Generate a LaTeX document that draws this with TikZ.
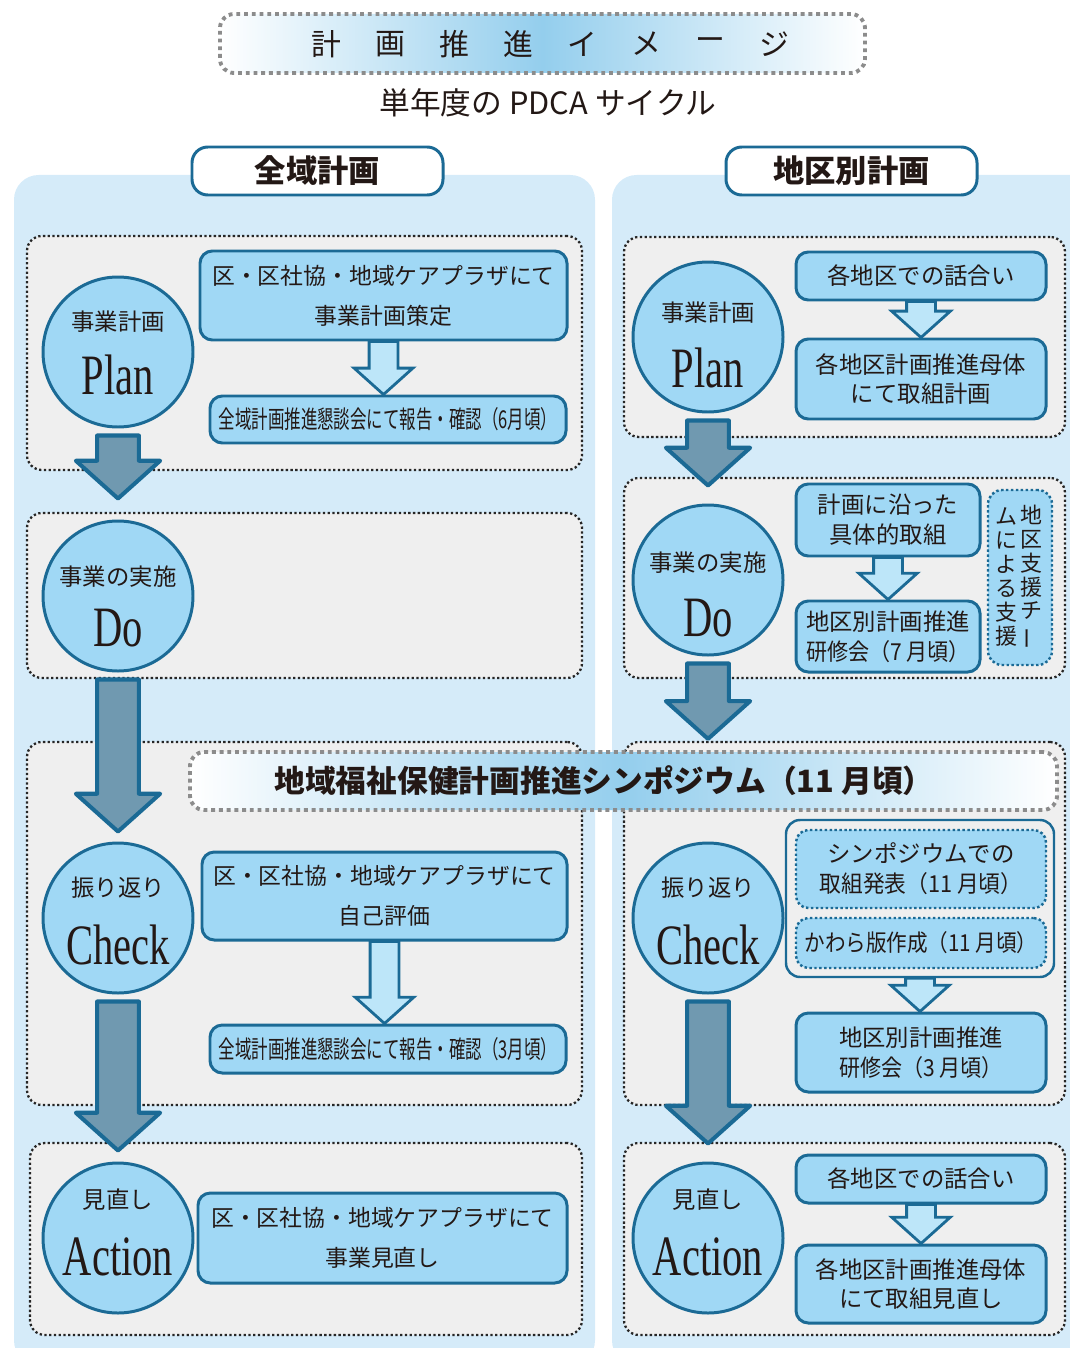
\documentclass[tikz,border=0pt]{standalone}
\usepackage{fontspec}
\usepackage{graphicx}
\setmainfont{Noto Sans CJK JP}
\newfontfamily\pdcafont[FakeStretch=0.71]{Liberation Serif}
\usetikzlibrary{calc}

\definecolor{panelblue}{RGB}{213,235,249}
\definecolor{stagegray}{RGB}{239,239,239}
\definecolor{nodeblue}{RGB}{160,216,245}
\definecolor{edgeblue}{RGB}{27,106,149}
\definecolor{arrowfill}{RGB}{112,153,176}
\definecolor{flowfill}{RGB}{189,230,249}
\definecolor{bannerblue}{RGB}{148,206,237}
\definecolor{dashgray}{RGB}{140,140,140}
\definecolor{inkdark}{RGB}{35,24,21}

\newcommand{\pxl}[1]{#1*0.02cm}

\tikzset{
  panel/.style={fill=panelblue, rounded corners=14pt},
  stagebox/.style={draw=black!85, fill=stagegray, line width=1.3pt, dash pattern=on 1.3pt off 1.4pt, rounded corners=8.5pt, inner sep=0pt},
  phase/.style={circle, draw=edgeblue, fill=nodeblue, line width=1.7pt, inner sep=0pt, minimum size=\pxl{150}},
  phasejp/.style={font=\fontsize{13.3}{16}\selectfont, text=inkdark, inner sep=0pt},
  phaseen/.style={font=\pdcafont\fontsize{32.5}{36}\selectfont, text=inkdark, inner sep=0pt},
  taskbox/.style={draw=edgeblue, fill=nodeblue, line width=1.7pt, rounded corners=7pt, align=center, inner sep=0pt, text=inkdark, font=\fontsize{13.3}{17}\selectfont},
  widetask/.style={taskbox, font=\fontsize{13}{22.7}\selectfont},
  sharebox/.style={taskbox, line width=1.4pt, dash pattern=on 1.4pt off 1.4pt},
  groupbox/.style={draw=edgeblue, fill=stagegray, line width=1.4pt, rounded corners=8pt, inner sep=0pt},
  teambox/.style={draw=edgeblue, fill=nodeblue, line width=1.4pt, dash pattern=on 1.4pt off 1.4pt, rounded corners=8pt, inner sep=0pt},
  teamcol/.style={align=center, inner sep=0pt, text=inkdark, font=\fontsize{12.5}{13.6}\selectfont},
  header/.style={draw=edgeblue, fill=white, line width=1.7pt, rounded corners=9pt, minimum width=\pxl{251}, minimum height=\pxl{48}, text=inkdark, font=\bfseries\fontsize{17.8}{20}\selectfont},
  banner/.style={draw=dashgray, line width=2.2pt, dash pattern=on 2.2pt off 2.2pt, rounded corners=8pt, left color=white, right color=white, middle color=bannerblue},
  stagearrow/.style={draw=edgeblue, fill=arrowfill, line width=2.3pt, line join=round},
  flowarrow/.style={draw=edgeblue, fill=flowfill, line width=1.6pt, line join=miter},
}

% thick arrow from one phase to the next, #3 = tip offset from target (px)
\newcommand{\pdcastep}[3]{%
  \draw[stagearrow] let \p1=($(#1.south)+(0,7)$), \p2=($(#2.north)+(0,#3)$) in
    (\x1-11.9pt,\y1) -- (\x1+11.9pt,\y1) -- (\x1+11.9pt,\y2+21.5pt) -- (\x1+24pt,\y2+21.5pt)
    -- (\x1,\y2) -- (\x1-24pt,\y2+21.5pt) -- (\x1-11.9pt,\y2+21.5pt) -- cycle;}
% hollow arrow between two task boxes
\newcommand{\flowstep}[2]{%
  \draw[flowarrow] let \p1=(#1.south), \p2=(#2.north) in
    (\x1-8.2pt,\y1) -- (\x1+8.2pt,\y1) -- (\x1+8.2pt,\y2+15pt) -- (\x1+16.7pt,\y2+15pt)
    -- (\x1,\y2) -- (\x1-16.7pt,\y2+15pt) -- (\x1-8.2pt,\y2+15pt) -- cycle;}

\begin{document}
\begin{tikzpicture}[x=0.02cm, y=-0.02cm]
\useasboundingbox (0,0) rectangle (1069,1348);

% column panels
\fill[panel] (14,175) rectangle (595,1365);
\fill[panel] (612,175) rectangle (1095,1365);

% title
\node[banner, minimum width=\pxl{645}, minimum height=\pxl{59}] (title) at (542.5,43.5) {};
\foreach \ch [count=\i] in {計,画,推,進,イ,メ,ー,ジ}
  \node[text=inkdark, font=\fontsize{17}{20}\selectfont] (title-\i) at ({550+64*(\i-4.5)},44) {\ch};
\node[text=inkdark, font=\fontsize{17.5}{20}\selectfont] (subtitle) at (548,103) {単年度の PDCA サイクル};

% column headers
\node[header] (whole) at (317.5,171) {全域計画};
\node[header] (district) at (851.5,171) {地区別計画};

% stage boxes
\node[stagebox, minimum width=\pxl{555}, minimum height=\pxl{234}] (lpstage) at (304.5,353) {};
\node[stagebox, minimum width=\pxl{555}, minimum height=\pxl{165}] (ldstage) at (304.5,595.5) {};
\node[stagebox, minimum width=\pxl{555}, minimum height=\pxl{363}] (lcstage) at (304.5,923.5) {};
\node[stagebox, minimum width=\pxl{552}, minimum height=\pxl{192}] (lastage) at (306,1239) {};
\node[stagebox, minimum width=\pxl{441}, minimum height=\pxl{200}] (rpstage) at (844.5,337) {};
\node[stagebox, minimum width=\pxl{441}, minimum height=\pxl{200}] (rdstage) at (844.5,578) {};
\node[stagebox, minimum width=\pxl{441}, minimum height=\pxl{363}] (rcstage) at (844.5,923.5) {};
\node[stagebox, minimum width=\pxl{441}, minimum height=\pxl{192}] (rastage) at (844.5,1239) {};

% PDCA circles
\foreach \nm/\cx/\cy/\jp/\en/\jy/\ey in {
    lp/118/352/事業計画/Plan/322/375, ld/118/596/事業の実施/Do/577/628,
    lc/118/918/振り返り/Check/888/945, la/118/1238/見直し/Action/1200/1257,
    rp/708/337/事業計画/Plan/313/368, rd/708/580/事業の実施/Do/563/618,
    rc/708/918/振り返り/Check/888/945, ra/708/1238/見直し/Action/1200/1257} {
  \node[phase] (\nm) at (\cx,\cy) {};
  \node[phasejp] (\nm-jp) at (\cx,\jy) {\jp};
  \node[phaseen] (\nm-en) at (\cx,\ey) {\en};
}

% left column tasks
\node[widetask, minimum width=\pxl{367}, minimum height=\pxl{89}] (lp-task) at (383.5,295.5) {区・区社協・地域ケアプラザにて\\事業計画策定};
\node[taskbox, minimum width=\pxl{356}, minimum height=\pxl{47}] (lp-report) at (388,419.5) {\scalebox{0.67}[1]{\fontsize{14}{17}\selectfont 全域計画推進懇談会にて報告・確認（6月頃）}};
\node[widetask, minimum width=\pxl{365}, minimum height=\pxl{88}] (lc-task) at (384.5,896) {区・区社協・地域ケアプラザにて\\自己評価};
\node[taskbox, minimum width=\pxl{356}, minimum height=\pxl{48}] (lc-report) at (388,1049) {\scalebox{0.67}[1]{\fontsize{14}{17}\selectfont 全域計画推進懇談会にて報告・確認（3月頃）}};
\node[widetask, minimum width=\pxl{369}, minimum height=\pxl{90}] (la-task) at (382.5,1238) {区・区社協・地域ケアプラザにて\\事業見直し};

% right column tasks
\node[taskbox, minimum width=\pxl{250}, minimum height=\pxl{48}] (rp-talk) at (921,276) {各地区での話合い};
\node[taskbox, minimum width=\pxl{250}, minimum height=\pxl{80}] (rp-plan) at (921,379) {各地区計画推進母体\\にて取組計画};
\node[taskbox, minimum width=\pxl{184}, minimum height=\pxl{72}] (rd-act) at (888,520) {計画に沿った\\具体的取組};
\node[taskbox, minimum width=\pxl{184}, minimum height=\pxl{71}] (rd-train) at (888,636.5) {地区別計画推進\\\scalebox{0.9}[1]{研修会（7 月頃）}};
\node[teambox, minimum width=\pxl{64}, minimum height=\pxl{175}] (rd-team) at (1020,577.5) {};
\node[teamcol] (rd-team-r) at (1031,577) {地\\区\\支\\援\\チ\\\rotatebox[origin=c]{90}{ー}};
\node[teamcol] (rd-team-l) at (1006,577) {ム\\に\\よ\\る\\支\\援};
\node[groupbox, minimum width=\pxl{268}, minimum height=\pxl{157}] (rc-group) at (920,898.5) {};
\node[sharebox, minimum width=\pxl{250}, minimum height=\pxl{78}] (rc-forum) at (921,869) {シンポジウムでの\\\scalebox{0.93}[1]{取組発表（11 月頃）}};
\node[sharebox, minimum width=\pxl{250}, minimum height=\pxl{50}] (rc-paper) at (921,943) {\scalebox{0.88}[1]{かわら版作成（11 月頃）}};
\node[taskbox, minimum width=\pxl{250}, minimum height=\pxl{79}] (rc-train) at (921,1052.5) {地区別計画推進\\\scalebox{0.9}[1]{研修会（3 月頃）}};
\node[taskbox, minimum width=\pxl{250}, minimum height=\pxl{48}] (ra-talk) at (921,1179) {各地区での話合い};
\node[taskbox, minimum width=\pxl{250}, minimum height=\pxl{78}] (ra-plan) at (921,1284) {各地区計画推進母体\\にて取組見直し};

% arrows
\pdcastep{lp}{ld}{-21}
\pdcastep{ld}{lc}{-10}
\pdcastep{lc}{la}{-11}
\pdcastep{rp}{rd}{-18}
\pdcastep{rd}{rcstage}{-2}
\pdcastep{rc}{ra}{-18}
\flowstep{lp-task}{lp-report}
\flowstep{lc-task}{lc-report}
\flowstep{rp-talk}{rp-plan}
\flowstep{rd-act}{rd-train}
\flowstep{rc-group}{rc-train}
\flowstep{ra-talk}{ra-plan}

% symposium banner
\node[banner, minimum width=\pxl{867}, minimum height=\pxl{58}] (symposium) at (623.5,781) {};
\node[text=inkdark, font=\bfseries\fontsize{17.5}{20}\selectfont] (symposium-text) at (604,781) {地域福祉保健計画推進シンポジウム（11 月頃）};
\end{tikzpicture}
\end{document}
